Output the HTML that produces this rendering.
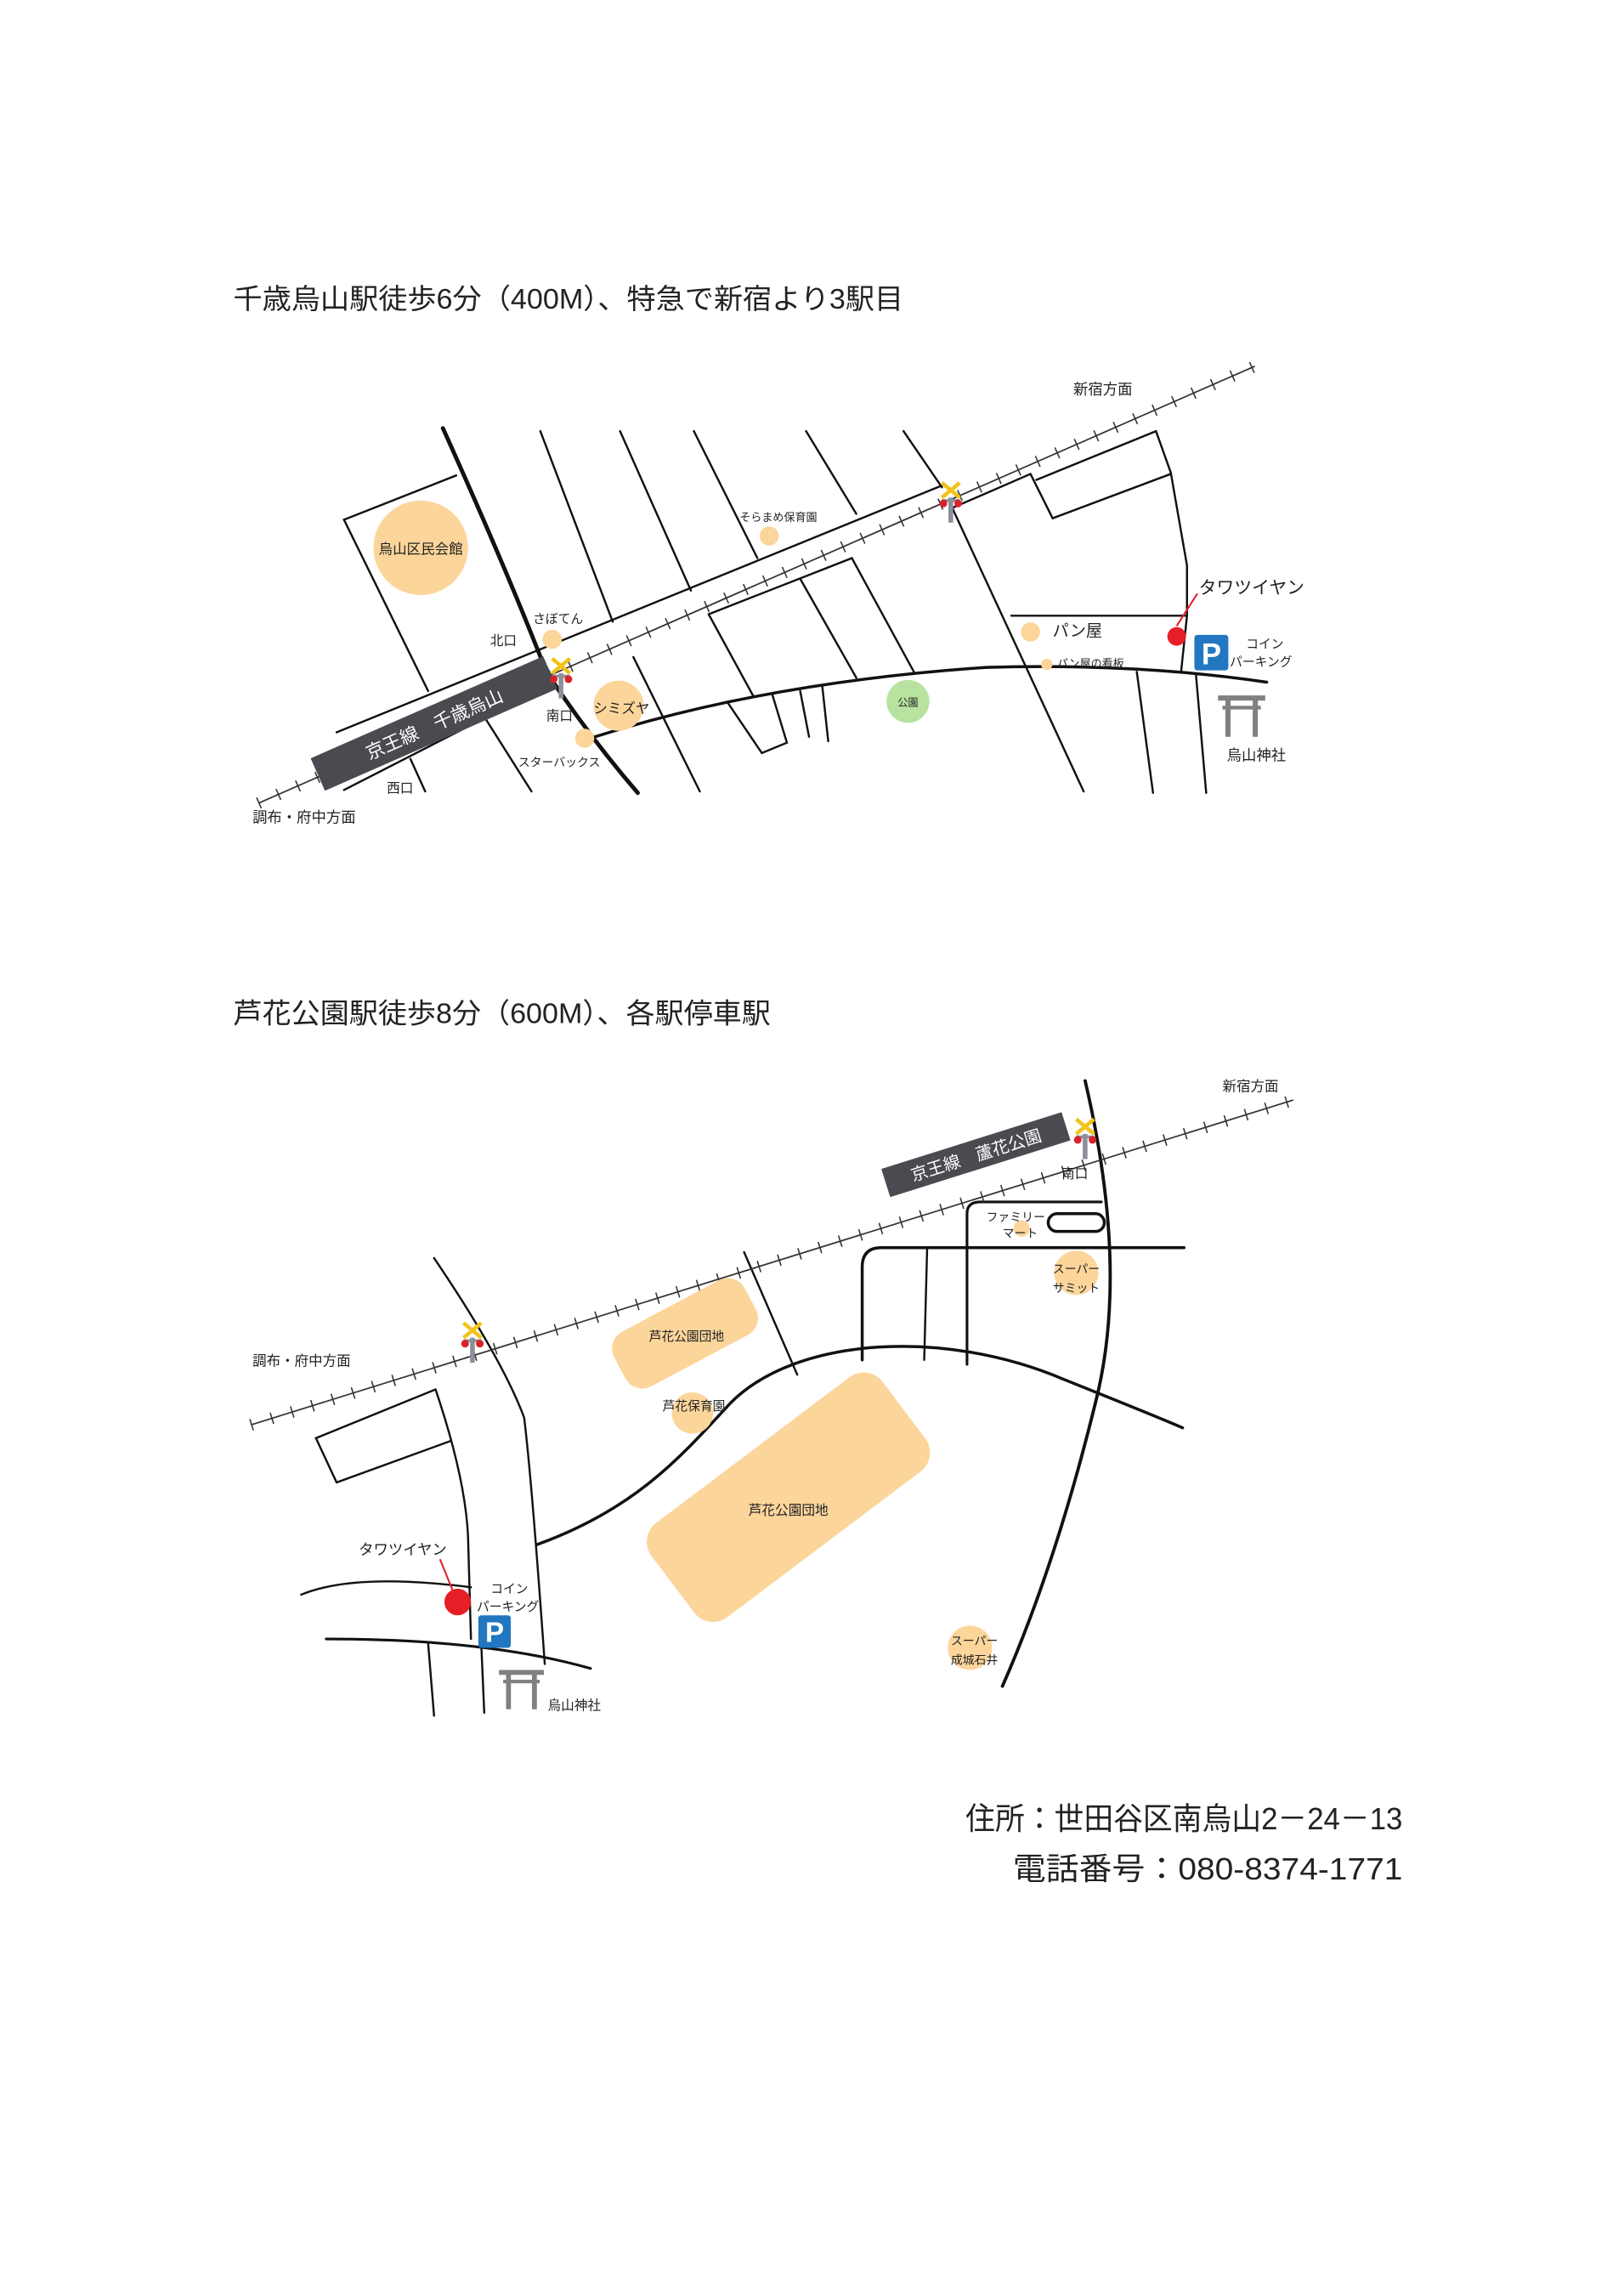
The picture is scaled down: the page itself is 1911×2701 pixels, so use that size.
<!DOCTYPE html>
<html><head><meta charset="utf-8"><style>
html,body{margin:0;padding:0;background:#fff;}
svg{display:block;}
text{font-family:"Liberation Sans","Noto Sans CJK JP",sans-serif;fill:#222;}
</style></head><body>
<svg width="1911" height="2701" viewBox="0 0 1100 1555" preserveAspectRatio="none" xmlns="http://www.w3.org/2000/svg">
<defs>
<g id="xing">
  <rect x="-1.6" y="0" width="3.2" height="17" fill="#8b9099"/>
  <line x1="-6" y1="2" x2="6" y2="2" stroke="#8b9099" stroke-width="2"/>
  <circle cx="-5" cy="4" r="2.6" fill="#d8232a"/>
  <circle cx="5" cy="4" r="2.6" fill="#d8232a"/>
  <line x1="-6" y1="-10" x2="6" y2="0" stroke="#f2c318" stroke-width="2.6"/>
  <line x1="6" y1="-10" x2="-6" y2="0" stroke="#f2c318" stroke-width="2.6"/>
</g>
<g id="torii" fill="#808080">
  <rect x="0" y="0" width="32" height="3.5"/>
  <rect x="3" y="7" width="26" height="2.5"/>
  <rect x="5" y="2" width="3.5" height="26"/>
  <rect x="23.5" y="2" width="3.5" height="26"/>
</g>
</defs>

<!-- Titles -->
<text x="158" y="209" font-size="19" textLength="454" lengthAdjust="spacingAndGlyphs">千歳烏山駅徒歩6分（400M）、特急で新宿より3駅目</text>
<text x="158" y="693" font-size="19" textLength="364" lengthAdjust="spacingAndGlyphs">芦花公園駅徒歩8分（600M）、各駅停車駅</text>

<!-- ============ TOP MAP ============ -->
<g fill="none" stroke="#111" stroke-width="1.4" stroke-linecap="round">
  <!-- rail corridor roads -->
  <line x1="228" y1="496" x2="640" y2="328"/>
  <line x1="233" y1="535" x2="370" y2="465"/>
  <line x1="645" y1="344" x2="698" y2="321"/>
  <polyline points="702,325 783,292 793,320 804,383 804,417 800,455"/>
  <polyline points="698,321 713,351 793,321"/>
  <!-- left box -->
  <polyline points="290,468 233,352 309,322"/>
  <!-- top streets -->
  <line x1="366" y1="292" x2="415" y2="421"/>
  <line x1="420" y1="292" x2="468" y2="400"/>
  <line x1="470" y1="292" x2="513" y2="378"/>
  <line x1="546" y1="292" x2="580" y2="348"/>
  <line x1="612" y1="292" x2="638" y2="330"/>
  <line x1="645" y1="344" x2="734" y2="536"/>
  <!-- lower streets -->
  <line x1="278" y1="514" x2="288" y2="536"/>
  <line x1="329" y1="487" x2="360" y2="536"/>
  <line x1="429" y1="445" x2="474" y2="536"/>
  <polyline points="480,416 577,378 619,455"/>
  <line x1="542" y1="392" x2="580" y2="459"/>
  <line x1="480" y1="416" x2="510" y2="471"/>
  <polyline points="493,476 516,510 533,503 523,470"/>
  <line x1="542" y1="468" x2="548" y2="499"/>
  <line x1="557" y1="465" x2="561" y2="502"/>
  <line x1="685" y1="417" x2="804" y2="417"/>
  <line x1="770" y1="455" x2="781" y2="537"/>
  <line x1="810" y1="456" x2="817" y2="537"/>
  <!-- curved road -->
  <path d="M403,499 Q520,462 668,452 Q770,449 858,462" stroke-width="2"/>
  <!-- main thick road -->
  <path d="M300,290 Q345,390 370,455 Q400,500 432,537" stroke-width="2.8"/>
</g>
<!-- rail top -->
<line x1="175" y1="544" x2="850" y2="248" stroke="#333" stroke-width="1"/>
<line x1="175" y1="544" x2="850" y2="248" stroke="#333" stroke-width="8" stroke-dasharray="0.9 13.5"/>
<!-- station top -->
<g transform="translate(294,490) rotate(-23.7)">
  <rect x="-86" y="-12" width="172" height="24" fill="#4a4b50"/>
  <text x="0" y="5" font-size="12.5" text-anchor="middle" style="fill:#fff">京王線　千歳烏山</text>
</g>
<!-- circles top -->
<circle cx="285" cy="371" r="32" fill="#fcd59b"/>
<text x="285" y="375" font-size="9.5" text-anchor="middle">烏山区民会館</text>
<circle cx="374" cy="433" r="6.5" fill="#fcd59b"/>
<circle cx="419" cy="478" r="17" fill="#fcd59b"/>
<circle cx="396" cy="500" r="6.5" fill="#fcd59b"/>
<circle cx="521" cy="363" r="6.5" fill="#fcd59b"/>
<circle cx="615" cy="475" r="14.5" fill="#b8e2a0"/>
<circle cx="698" cy="428" r="6.5" fill="#fcd59b"/>
<circle cx="709" cy="450" r="3.8" fill="#fcd59b"/>
<!-- labels top -->
<text x="727" y="267" font-size="10">新宿方面</text>
<text x="171" y="557" font-size="10">調布・府中方面</text>
<text x="501" y="353" font-size="7.5">そらまめ保育園</text>
<text x="361" y="422" font-size="8.5">さぼてん</text>
<text x="332" y="437" font-size="9">北口</text>
<text x="370" y="488" font-size="9">南口</text>
<text x="402" y="483" font-size="9.5">シミズヤ</text>
<text x="351" y="519" font-size="8">スターバックス</text>
<text x="262" y="537" font-size="9">西口</text>
<text x="615" y="478" font-size="7" text-anchor="middle">公園</text>
<text x="713" y="431" font-size="11">パン屋</text>
<text x="716" y="452" font-size="7.5">パン屋の看板</text>
<text x="812" y="402" font-size="12">タワツイヤン</text>
<text x="844" y="439" font-size="8.5">コイン</text>
<text x="833" y="451" font-size="8.5">パーキング</text>
<text x="831" y="515" font-size="10">烏山神社</text>
<!-- marker -->
<line x1="811" y1="402" x2="797" y2="424" stroke="#e0202a" stroke-width="1.2"/>
<circle cx="797" cy="431" r="6.3" fill="#e61f26"/>
<rect x="809" y="430" width="23" height="24" rx="2" fill="#2277c0"/>
<text x="820.5" y="450" font-size="20" font-weight="bold" text-anchor="middle" style="fill:#fff">P</text>
<use href="#torii" transform="translate(825,471)"/>
<use href="#xing" transform="translate(380,456)"/>
<use href="#xing" transform="translate(644,337)"/>

<!-- ============ BOTTOM MAP ============ -->
<g fill="none" stroke="#111" stroke-width="1.4" stroke-linecap="round">
  <path d="M294,852 Q340,920 355,960 Q360,1000 369,1127"/>
  <path d="M295,941 Q315,1000 317,1040 L319,1110"/>
  <polyline points="295,941 214,974 228,1004 305,976"/>
  <line x1="504" y1="848" x2="540" y2="931"/>
  <line x1="597" y1="845" x2="802" y2="845" stroke-width="2"/>
  <path d="M584,921 L584,858 Q584,845 597,845" stroke-width="2"/>
  <line x1="628" y1="845" x2="626" y2="921"/>
  <path d="M655,924 L655,822 Q655,814 664,814 L746,814" stroke-width="1.8"/>
  <rect x="710" y="822" width="38" height="12" rx="6" stroke-width="2"/>
  <path d="M204,1080 Q240,1065 319,1075" />
  <path d="M221,1110 Q330,1110 400,1130" stroke-width="1.8"/>
  <line x1="290" y1="1113" x2="294" y2="1162"/>
  <line x1="326" y1="1114" x2="328" y2="1160"/>
  <path d="M364,1046 C430,1022 460,988 495,950 C540,905 640,900 720,934 C760,950 785,960 801,967" stroke-width="2"/>
  <path d="M735,732 Q765,860 742,950 Q715,1060 679,1142" stroke-width="2.2"/>
</g>
<!-- rail bottom -->
<line x1="170" y1="965" x2="876" y2="745" stroke="#333" stroke-width="1"/>
<line x1="170" y1="965" x2="876" y2="745" stroke="#333" stroke-width="8" stroke-dasharray="0.9 13.5"/>
<g transform="translate(661,782) rotate(-17.5)">
  <rect x="-64" y="-10" width="128" height="20" fill="#4a4b50"/>
  <text x="0" y="4.5" font-size="11.5" text-anchor="middle" style="fill:#fff">京王線　蘆花公園</text>
</g>
<!-- areas bottom -->
<rect x="-50" y="-21" width="100" height="42" rx="13" fill="#fcd59b" transform="translate(464,903) rotate(-28)"/>
<text x="465" y="908" font-size="8.5" text-anchor="middle">芦花公園団地</text>
<circle cx="469" cy="957" r="14" fill="#fcd59b"/>
<text x="470" y="955" font-size="8.5" text-anchor="middle">芦花保育園</text>
<rect x="-98" y="-40" width="196" height="80" rx="16" fill="#fcd59b" transform="translate(534,1014) rotate(-37)"/>
<text x="534" y="1026" font-size="9" text-anchor="middle">芦花公園団地</text>
<circle cx="692" cy="832" r="5.5" fill="#fcd59b"/>
<circle cx="729" cy="862" r="15" fill="#fcd59b"/>
<circle cx="657" cy="1116" r="15" fill="#fcd59b"/>
<!-- labels bottom -->
<text x="828" y="739" font-size="9.5">新宿方面</text>
<text x="171" y="925" font-size="9.5">調布・府中方面</text>
<text x="719" y="798" font-size="9">南口</text>
<text x="668" y="827" font-size="8">ファミリー</text>
<text x="679" y="838" font-size="8">マート</text>
<text x="729" y="862" font-size="8" text-anchor="middle">スーパー</text>
<text x="729" y="875" font-size="8" text-anchor="middle">サミット</text>
<text x="660" y="1114" font-size="8" text-anchor="middle">スーパー</text>
<text x="660" y="1127" font-size="8" text-anchor="middle">成城石井</text>
<text x="243" y="1053" font-size="10">タワツイヤン</text>
<text x="345" y="1079" font-size="8.5" text-anchor="middle">コイン</text>
<text x="344" y="1091" font-size="8.5" text-anchor="middle">パーキング</text>
<text x="371" y="1158" font-size="9">烏山神社</text>
<line x1="298" y1="1056" x2="307" y2="1078" stroke="#e0202a" stroke-width="1.2"/>
<circle cx="310" cy="1085" r="9" fill="#e61f26"/>
<rect x="324" y="1094" width="22" height="22" rx="2" fill="#2277c0"/>
<text x="335" y="1112" font-size="19" font-weight="bold" text-anchor="middle" style="fill:#fff">P</text>
<use href="#torii" transform="translate(338,1131) scale(0.95)"/>
<use href="#xing" transform="translate(320,906)"/>
<use href="#xing" transform="translate(735,768)"/>

<!-- address -->
<text x="950" y="1239" font-size="21" text-anchor="end" textLength="296" lengthAdjust="spacingAndGlyphs">住所：世田谷区南烏山2－24－13</text>
<text x="950" y="1273" font-size="21" text-anchor="end" textLength="264" lengthAdjust="spacingAndGlyphs">電話番号：080-8374-1771</text>
</svg>
</body></html>
